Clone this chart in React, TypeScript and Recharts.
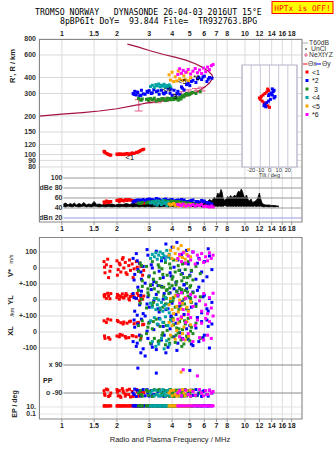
import React from 'react';
import {
  ComposedChart, ScatterChart, Scatter, XAxis, YAxis, CartesianGrid,
  ReferenceLine, Area, ErrorBar,
} from 'recharts';

// ---------------- data ----------------
const FREQ_TICKS = [1, 1.5, 2, 3, 4, 5, 6, 7, 8, 10, 12, 14, 16, 18];
const R_TICKS = [800, 600, 400, 300, 200, 150, 120, 100, 90, 80];
const DB_TICKS = [100, 80, 60, 40, 20];
const DB_LABELS = ['100', 'dBe 80', '60', '40', 'dBn 20'];
const TILT_TICKS = [-20, -10, 0, 10, 20];
const V_TICKS = [100, 0, -100];
const V_LABELS = ['100', '0', '+-100'];
const YL_TICKS = [0, -100];
const YL_LABELS = ['0', '+-100'];
const XL_TICKS = [0, -100];
const XL_LABELS = ['0', '-100'];
const PP_TICKS = [90, -90];
const PP_LABELS = ['x 90', 'o -90'];
const EP_TICKS = [10, 0.1];
const EP_LABELS = ['10.', '0.1'];
const SERIES_NAMES = ['<1', '*2', '3', '<4', '<5', '*6'];

// model profile curve [f MHz, R km]
const MODEL = [
  [0.75, 200], [1.0, 207], [1.3, 213], [1.6, 219], [2.0, 228], [2.5, 242], [3.0, 255],
  [3.5, 262], [4.0, 268], [4.5, 278], [5.0, 292], [5.5, 310], [6.0, 335], [6.4, 362],
  [6.68, 398], [6.6, 420], [6.3, 450], [5.9, 478], [5.4, 510], [4.8, 545], [4.2, 575],
  [3.6, 605], [3.0, 650], [2.6, 695], [2.28, 730],
];

// NeXtYZ [f, R, down, up]
const NEXTYZ = [
  [2.63, 243, 24, 26], [2.99, 262, 9, 10], [3.33, 262, 8, 9], [3.66, 269, 9, 10],
  [4.05, 282, 13, 13], [4.5, 297, 12, 13], [4.9, 307, 12, 13], [5.4, 318, 10, 10], [5.8, 325, 11, 11],
];

// noise / amplitude band [f, lo dB, hi dB]
const NOISE = [
  [1.02,43,48],[1.05,42,50],[1.08,44,46],[1.11,43,49],[1.14,42,47],[1.17,44,50],[1.2,43,46],[1.24,42,49],
  [1.28,43,47],[1.32,44,51],[1.36,42,46],[1.4,43,48],[1.45,42,47],[1.5,44,53],[1.55,43,47],[1.6,42,48],
  [1.66,43,46],[1.72,42,49],[1.8,43,47],[1.88,42,48],[1.96,43,46],[2.05,42,48],[2.15,43,47],[2.25,42,49],
  [2.35,43,47],[2.45,42,50],[2.55,43,48],[2.65,42,53],[2.75,43,49],[2.85,42,47],[2.95,43,50],[3.1,42,48],
  [3.25,43,49],[3.4,42,47],[3.6,43,50],[3.8,42,48],[4.0,43,49],[4.2,42,50],[4.4,43,48],[4.6,42,51],
  [4.8,43,49],[5.0,42,50],[5.2,43,52],[5.4,42,49],[5.6,43,53],[5.8,42,50],[6.0,43,55],[6.2,42,52],
  [6.4,43,57],[6.6,42,54],[6.8,43,62],[6.95,44,58],[7.1,43,70],[7.25,44,66],[7.4,43,77],[7.5,44,72],
  [7.6,43,60],[7.75,45,55],[7.9,44,58],[8.05,43,63],[8.2,44,60],[8.35,43,65],[8.5,44,61],[8.65,43,63],
  [8.8,44,66],[8.95,43,62],[9.1,44,70],[9.25,43,74],[9.4,44,71],[9.55,43,78],[9.7,44,73],[9.85,43,64],
  [10.0,44,60],[10.2,43,66],[10.4,44,57],[10.6,43,54],[10.8,44,58],[11.0,43,51],[11.3,44,53],[11.6,43,56],
  [11.8,44,62],[12.0,43,70],[12.2,44,58],[12.4,43,50],[12.7,42,47],[13.0,43,46],[13.5,42,46],[14.0,43,45],
  [14.5,42,45],[15.0,43,44],[15.3,42,44],
];

// echoes: [f MHz, R km, dB, V* m/s, YL km, XL km, PP deg, EP deg]
const ECHO_1 = [
  [1.70,106,52, 40, 30, 70,-75,20],[1.72,104,50,-30, 35,-40,-105,22],[1.75,102,54, 20, 10, 60,-65,18],
  [1.80,100,51,-60, 25,-35,-112,21],[1.85,99,53, 10, 40, 75,-90,20],[2.00,101,55, 45, 15,-25,-68,19],
  [2.03,100,56,-10, 28, 65,-108,23],[2.06,101,53, 30, 5,-30,-75,20],[2.10,100,57,-25, 20, 58,-118,21],
  [2.14,101,55, 55, 38,-20,-62,18],[2.18,100,54, 0, 12, 62,-90,22],[2.22,101,56, 35, 25,-28,-110,20],
  [2.27,102,55,-40, 30, 55,-72,19],[2.32,100,57, 15, 8,-35,-100,21],[2.37,101,56,-15, 22, 68,-115,20],
  [2.42,103,55, 25, 35,-22,-80,22],[2.48,102,54,-5, 18, 52,-105,20],[2.55,104,53, 40, 10,-30,-68,19],
  [2.62,105,52,-20, 28, 60,-110,21],[2.70,108,51, 10, 15,-40,-90,20],[2.76,109,50,-45, 5, 45,-75,20],
  [1.71,105,51, 5, 20,-25,-95,21],[1.78,101,53, 55, 42, 80,-70,20],[1.83,99,52,-20, 8,-45,-105,22],
  [2.01,100,55,-45, 35, 72,-85,21],[2.08,101,56, 20, 25,-15,-110,20],[2.16,100,55, 65, 15, 50,-78,22],
  [2.24,101,57,-30, 40,-38,-98,21],[2.34,101,56, 50, 0, 64,-66,20],[2.45,102,55,-60, 28,-25,-112,22],
  [2.58,104,53, 5, 42, 58,-82,21],[2.66,106,52, 30,-5,-20,-102,20],[2.80,110,50,-15, 25, 48,-88,21],
];
const ECHO_2 = [
  [2.45,300,52, 60, 40,-60,-90,22],[2.50,312,54,-40,-70, 30,-65,20],[2.55,292,55, 90, 10,-90,-112,24],
  [2.60,305,53,-10, 80, 50, 70,21],[2.66,288,56, 30,-30,-20,-75,19],[2.72,318,54,-70, 55, 80,-105,23],
  [2.78,298,57, 10,-85,-105,-68,20],[2.85,296,55,-95,-100,-150,-108,21],
  [2.95,306,55, 80, 20,-40,-90,22],[3.00,316,58,-50,-45, 60,-110,20],[3.08,300,57, 20, 65,-75,-75,21],
  [3.18,322,56,-85,-5, 15,-100,24],[3.28,310,59, 105, 35,-110, 38,20],[3.40,296,57,-20,-75, 85,-72,22],
  [3.50,318,55, 45, 85,-50,-108,19],[3.58,302,56,-60, 5, 35,-80,21],[3.70,306,58,150,-60,-130,-75,20],
  [3.80,330,55, 70,-55,-95,-105,23],[3.90,302,56,-30, 45, 20,-68,20],[4.00,290,57, 130,-20, 70,-90,22],
  [4.10,318,54, 5, 70,-30,-112,21],[4.20,282,55,-90,-90, 55,-75,20],[4.30,312,56, 50, 25,-70,-100,24],
  [4.40,296,55,-15,-40,-5,-72,22],[4.50,338,57, 85, 60, 90,-110,20],[4.65,320,56,-105, 95, 110,-105,22],
  [4.90,360,53, 25,-65,-45,-80,21],[5.00,346,54,-45, 15, 40, 55,23],[5.20,380,56, 100, 50,-85,-105,20],
  [5.40,366,53,-70,-25, 25,-68,22],[5.60,400,52, 60, 80,-60,-90,21],[5.80,386,55,-25,-80, 65,-112,19],
  [6.00,410,54, 40, 30,-20,-75,23],[6.20,372,51,-55,-55, 75,-100,20],[6.40,400,50, 75, 10,-100,-72,22],
  [6.60,395,48,-10,-15, 50,-90,21],
  [2.48,295,53,-75, 15, 75,-100,21],[2.58,308,56, 45,-95,-70,-72,22],[2.70,290,55,-25, 30,-130,-110,20],
  [2.92,312,57, 115,-25, 5,-68,21],[3.12,304,56, 0, 95,-95,-105,22],[3.35,315,58,-110,-55, 45,-80,20],
  [3.62,298,57, 65, 40,-20,-112,21],[3.95,325,56,-50,-100, 95,-75,22],[4.25,300,55, 160, 55,-115,-100,21],
  [4.55,330,54,-35,-10,-40,-90,20],[4.80,352,53, 110, 70, 20,-108,22],[5.10,372,55,-20,-45,-75,-72,21],
  [5.50,390,53, 30, 60, 90,-105,20],[5.90,404,52,-80, 20,-35,-80,22],[6.30,388,50, 120,-70, 35,-110,21],
];
const ECHO_3 = [
  [2.62,275,50,-20, 60, 40,-90,21],[2.68,268,49, 30,-20,-50,-75,20],[2.75,272,51,-80, 85, 70,-110,22],
  [2.90,270,50, 10,-50,-10,-72,20],[2.98,265,52,-55, 30, 55,-105,21],[3.05,274,51,-110, 95,-70,-80,23],
  [3.12,268,53, 40,-35, 20,-112,20],[3.20,276,52,-30, 70,-40,-68,22],[3.28,262,53,-90, 10, 80,-100,21],
  [3.36,270,54, 20, 50,-60,-75,20],[3.44,266,52,-65,-60, 35,-108,22],[3.52,274,53,-5, 80,-20,-90,21],
  [3.60,271,55,-120, 25, 60,-72,20],[3.68,264,54, 35,-25,-80,-110,23],[3.76,276,52,-45, 65, 10,-80,21],
  [3.84,270,53,-100, 40,-45,-105,20],[3.92,268,54, 0,-10, 75,-68,22],[4.00,275,52,-70, 90,-30,-90,21],
  [4.08,269,53, 50, 15, 45,-112,20],[4.16,280,51,-25,-45,-65,-75,22],[4.24,272,52,-85, 55, 25,-100,21],
  [4.32,266,53, 15, 35,-5,-72,20],[4.40,278,51,-130, 75, 65,-108,22],[4.48,272,52,-40,-30,-50,-80,21],
  [4.56,288,50, 25, 45, 15,-90,20],[4.64,282,51,-60, 5,-75,-110,23],[4.72,295,50,-10, 60, 50,-68,21],
  [4.80,300,49,-95,-55,-25,-105,20],[4.90,292,50, 40, 25, 85,-75,22],[5.00,296,49,-50, 80,-55,-100,21],
  [5.10,304,48,-15,-15, 30,-80,20],[5.20,306,48,-75, 45,-10,-72,22],[5.40,300,47, 10,-40, 55,-108,21],
  [5.70,310,47,-35, 20,-40,-90,20],
  [2.72,266,50, 15, 5,-25,-100,21],[2.95,272,51,-130, 45, 30,-80,22],[3.16,270,52,-70,-15, 65,-110,20],
  [3.40,268,53, 5, 90,-55,-68,21],[3.56,272,54,-40,-45,-5,-105,22],[3.72,266,53,-140, 10, 40,-75,20],
  [3.88,274,52, 25, 75,-70,-112,21],[4.04,270,53,-55,-5, 85,-90,22],[4.20,276,52,-105, 30,-20,-72,20],
  [4.36,270,51,-15,-60, 20,-108,21],[4.52,284,50,-80, 65,-90,-80,22],[4.68,290,50, 30,-25, 70,-100,20],
  [4.85,296,49,-60, 50,-35,-75,21],[5.05,300,48,-110, 10, 5,-110,22],
];
const ECHO_4 = [
  [3.05,340,50, 60,-20, 70,-90,21],[3.12,348,52, 85,-45,-60,-75,20],[3.20,335,48, 70, 10, 90,-108,22],
  [3.26,352,54, 95,-60,-90,-72,21],[3.32,344,46, 55,-30, 50,-100,20],[3.38,356,53, 80, 0,-75,-110,22],
  [3.44,338,50, 100,-50, 80,-80,21],[3.50,348,47, 65,-15,-40,-105,20],[3.56,342,55, 90,-70, 60,-68,22],
  [3.62,354,49, 75,-35,-105,-90,21],[3.68,336,51, 50, 15, 95,-108,20],[3.74,346,45, 110,-55,-55,-75,22],
  [3.80,340,52, 70,-25, 40,-100,21],[3.86,350,48, 85,-80,-80,-72,20],[3.92,338,46, 60, 5, 70,-110,22],
];
const ECHO_5 = [
  [3.85,420,48, 80,-30, 60,-90,21],[3.92,382,46, 110, 10,-20,-75,20],[4.00,440,47, 60,-60, 40,-108,22],
  [4.08,372,49, 130,-85, 75,-72,21],[4.16,405,45, 90, 25,-45,-100,20],[4.24,376,47, 50,-40, 10,-110,22],
  [4.32,450,44, 120,-75, 55,-80,21],[4.40,390,48, 75, 0,-30,-105,20],[4.48,430,46, 140,-55, 85, 45,22],
  [4.56,380,45, 65,-20,-10,-68,21],[4.64,412,47, 100,-95, 30,-90,20],[4.72,385,44, 55, 15,-50,-108,22],
  [4.82,440,46, 85,-45, 65,-75,21],[4.92,378,45, 115,-70,-25,-100,20],[5.05,398,47, 70,-10, 45,-72,22],
];
const ECHO_6 = [
  [4.30,422,47, 60, 30, 80,-90,21],[4.40,468,46, 85,-20,-30,-75,20],[4.50,432,45, 40, 45, 95,-108,22],
  [4.60,455,48, 95,-60,-45, 60,21],[4.75,440,44, 30, 10, 60,-72,20],[4.90,462,46, 75,-90,-10,-100,22],
  [5.05,426,45, 50, 35, 90,-110,21],[5.20,448,47, 100,-40,-60,-80,20],[5.35,470,44, 25, 20, 40,-105,22],
  [5.50,436,46, 80,-110, 75, 20,21],[5.65,458,45, 55,-5,-35,-68,20],[5.80,430,47, 90,-70, 55,-90,22],
  [5.95,474,43, 35, 40,-50,-108,21],[6.10,444,44, 70,-30, 85,-75,20],[6.25,482,43, 45,-85,-20,-100,22],
  [6.40,460,42, 95, 15, 65,-72,21],[6.55,495,44, 60,-50,-40,-90,20],[6.70,505,42, 80, 42, 100,-80,22],
];
const ECHOES = [ECHO_1, ECHO_2, ECHO_3, ECHO_4, ECHO_5, ECHO_6];

// black mode labels [f, R, text]
const MODE_LABELS: [number, number, string][] = [
  [2.35, 95, '<1'], [3.75, 322, '<4'], [4.15, 283, '3'], [4.55, 372, '<5'], [5.45, 398, '*6'],
];

// tilt inset [tilt deg, R km]
const TILT_X = [
  [-2,325],[-1,316],[-3,308],[-5,300],[-7,292],[-9,284],[-11,277],[-10,270],[-8,262],[-6,254],[-4,246],[-2,240],[0,234],
];
const TILT_Y = [
  [3,326],[5,318],[4,310],[2,303],[0,296],[-1,289],[3,292],[6,284],[5,277],[1,270],[-1,262],[-3,255],[-5,248],[-6,241],[-4,236],
];

// ---------------- styles ----------------
const FONT = '"Liberation Sans", Arial, sans-serif';
const MONO = '"DejaVu Sans Mono", monospace';
const COLORS = ['#ff0000', '#0000ff', '#228b22', '#00a3a3', '#ffa500', '#ff00ff'];
const MODEL_COLOR = '#a3123f';
const NEXT_COLOR = '#e0608a';
const F_DOMAIN: [number, number] = [0.75, 20.5];
const TICK = { fontSize: 7, fill: '#222', fontWeight: 'bold', fontFamily: FONT } as any;
const LBL = (v: string, off = 3) => ({ value: v, position: 'left', offset: off, fontSize: 7, fill: '#333', fontWeight: 'bold', fontFamily: FONT } as any);

const R = 1, DB = 2, V = 3, YL = 4, XL = 5, PP = 6, EP = 7;
const pts = (arr: number[][], k: number) => arr.map((e) => ({ f: e[0], y: e[k] }));
const sq = (color: string, s = 3) => (p: any) =>
  <rect x={p.cx - s / 2} y={p.cy - s / 2} width={s} height={s} fill={color} />;
const none = () => <g />;

const bandData = NOISE.map((n) => ({ f: n[0], band: [n[1], n[2]] }));

function TopChart() {
  return (
    <ComposedChart width={335} height={236} data={bandData} margin={{ top: 27, right: 33, bottom: 0, left: 39 }}>
      <XAxis xAxisId="x" dataKey="f" type="number" scale="log" domain={F_DOMAIN} allowDataOverflow
        orientation="top" ticks={FREQ_TICKS} interval={0} height={12} axisLine={false} tickLine={false}
        tickSize={2} tickMargin={1} tick={TICK} />
      <XAxis xAxisId="xb" dataKey="f" type="number" scale="log" domain={F_DOMAIN} allowDataOverflow
        orientation="bottom" ticks={FREQ_TICKS} interval={0} height={14} axisLine={false}
        tickLine={{ stroke: '#999' }} tickSize={3} tickMargin={1} tick={TICK} />
      <YAxis yAxisId="r" dataKey="y" type="number" scale="log" domain={[29.7, 800]} allowDataOverflow hide ticks={R_TICKS} />
      <YAxis yAxisId="db" dataKey="y" type="number" domain={[12, 378]} allowDataOverflow hide ticks={DB_TICKS} />
      <CartesianGrid xAxisId="x" yAxisId="r" horizontal={false} stroke="#dcdcdc" />
      {R_TICKS.map((t) => (
        <ReferenceLine key={'r' + t} xAxisId="x" yAxisId="r" y={t} stroke="#d8d8d8" label={LBL(String(t))} />
      ))}
      {DB_TICKS.map((t, i) => (
        <ReferenceLine key={'d' + t} xAxisId="x" yAxisId="db"
          segment={[{ x: 1.02, y: t }, { x: 20.4, y: t }]}
          stroke={t === 20 ? '#9a9ae8' : '#999'} label={LBL(DB_LABELS[i], 1)} />
      ))}
      <Area xAxisId="x" yAxisId="db" dataKey="band" type="linear" stroke="#000" strokeWidth={0.8}
        fill="#000" fillOpacity={1} dot={false} activeDot={false} isAnimationActive={false} />
      <Scatter xAxisId="x" yAxisId="r" data={MODEL.map((m) => ({ f: m[0], y: m[1] }))} fill={MODEL_COLOR}
        line={{ stroke: MODEL_COLOR, strokeWidth: 1.2 }} lineType="joint" shape={none} isAnimationActive={false} />
      <Scatter xAxisId="x" yAxisId="r" data={NEXTYZ.map((n) => ({ f: n[0], y: n[1], e: [n[2], n[3]] }))}
        shape={(p: any) => <path d={`M${p.cx - 2},${p.cy}h4`} stroke={NEXT_COLOR} strokeWidth={1} />}
        isAnimationActive={false}>
        <ErrorBar dataKey="e" direction="y" width={4} stroke={NEXT_COLOR} strokeWidth={1} />
      </Scatter>
      {ECHOES.map((arr, i) => (
        <Scatter key={'er' + i} xAxisId="x" yAxisId="r" data={pts(arr, R)} shape={sq(COLORS[i])} isAnimationActive={false} />
      ))}
      {ECHOES.map((arr, i) => (
        <Scatter key={'ed' + i} xAxisId="x" yAxisId="db" data={pts(arr, DB)} shape={sq(COLORS[i])} isAnimationActive={false} />
      ))}
      <Scatter xAxisId="x" yAxisId="r" data={MODE_LABELS.map((m) => ({ f: m[0], y: m[1], t: m[2] }))}
        shape={(p: any) => (
          <text x={p.cx} y={p.cy} fontSize={7.5} fontFamily={FONT} textAnchor="middle" dominantBaseline="central" fill="#000">
            {p.payload.t}
          </text>
        )} isAnimationActive={false} />
    </ComposedChart>
  );
}

function TiltChart() {
  return (
    <ScatterChart width={75} height={125} margin={{ top: 10, right: 10, bottom: 5, left: 10 }}>
      <XAxis dataKey="f" type="number" domain={[-30, 30]} allowDataOverflow ticks={TILT_TICKS} interval={0}
        height={8} axisLine={false} tickLine={false} tickSize={0} tickMargin={1}
        tick={{ fontSize: 5.5, fill: '#333', fontFamily: FONT }} />
      <YAxis dataKey="y" type="number" scale="log" domain={[80, 501]} allowDataOverflow hide />
      <CartesianGrid horizontal={false} stroke="#c8c8d8" fill="#fff" fillOpacity={1} />
      <Scatter data={TILT_X.map((t) => ({ f: t[0], y: t[1] }))} shape={sq('#ff0000', 3)} isAnimationActive={false} />
      <Scatter data={TILT_Y.map((t) => ({ f: t[0], y: t[1] }))} shape={sq('#0000ff', 3)} isAnimationActive={false} />
    </ScatterChart>
  );
}

function LowerChart() {
  const bands: [string, number][] = [['v', V], ['yl', YL], ['xl', XL], ['pp', PP], ['ep', EP]];
  return (
    <ScatterChart width={335} height={215} margin={{ top: 1, right: 33, bottom: 18, left: 39 }}>
      <XAxis xAxisId="x" dataKey="f" type="number" scale="log" domain={F_DOMAIN} allowDataOverflow
        ticks={FREQ_TICKS} interval={0} height={14} axisLine={false}
        tickLine={{ stroke: '#999' }} tickSize={3} tickMargin={1} tick={TICK} />
      <YAxis yAxisId="v" dataKey="y" type="number" domain={[-943.75, 193.75]} allowDataOverflow hide ticks={V_TICKS} />
      <YAxis yAxisId="yl" dataKey="y" type="number" domain={[-743.75, 393.75]} allowDataOverflow hide ticks={YL_TICKS} />
      <YAxis yAxisId="xl" dataKey="y" type="number" domain={[-543.75, 593.75]} allowDataOverflow hide ticks={XL_TICKS} />
      <YAxis yAxisId="pp" dataKey="y" type="number" domain={[-257.1, 912.9]} allowDataOverflow hide ticks={PP_TICKS} />
      <YAxis yAxisId="ep" dataKey="y" type="number" scale="log" domain={[0.003727, 3.72e49]} allowDataOverflow hide ticks={EP_TICKS} />
      <CartesianGrid xAxisId="x" yAxisId="v" horizontal={false} stroke="#dcdcdc" />
      {V_TICKS.map((t, i) => (
        <ReferenceLine key={'v' + t} xAxisId="x" yAxisId="v" y={t} stroke="#dcdcdc" label={LBL(V_LABELS[i], 2)} />
      ))}
      {YL_TICKS.map((t, i) => (
        <ReferenceLine key={'yl' + t} xAxisId="x" yAxisId="yl" y={t} stroke="#dcdcdc" label={LBL(YL_LABELS[i], 2)} />
      ))}
      {XL_TICKS.map((t, i) => (
        <ReferenceLine key={'xl' + t} xAxisId="x" yAxisId="xl" y={t} stroke="#dcdcdc" label={LBL(XL_LABELS[i], 2)} />
      ))}
      {PP_TICKS.map((t, i) => (
        <ReferenceLine key={'pp' + t} xAxisId="x" yAxisId="pp" segment={[{ x: 1.02, y: t }, { x: 20.4, y: t }]}
          stroke="#888" label={LBL(PP_LABELS[i], 1)} />
      ))}
      {EP_TICKS.map((t, i) => (
        <ReferenceLine key={'ep' + t} xAxisId="x" yAxisId="ep" y={t} stroke="#e4e4e4" label={LBL(EP_LABELS[i], 3)} />
      ))}
      {bands.map(([id, k]) =>
        ECHOES.map((arr, i) => (
          <Scatter key={id + i} xAxisId="x" yAxisId={id} data={pts(arr, k)} shape={sq(COLORS[i])} isAnimationActive={false} />
        ))
      )}
    </ScatterChart>
  );
}

function Overlay() {
  const legendY = [72, 80.5, 89, 97.5, 106, 114.5];
  const t7 = { fontSize: 6.8, fontFamily: FONT, fill: '#333' } as any;
  return (
    <svg width={335} height={451} style={{ position: 'absolute', left: 0, top: 0, pointerEvents: 'none' }}>
      <text x={35} y={14.5} fontSize={8.2} fontFamily={MONO} style={{ whiteSpace: 'pre' }}>TROMSO NORWAY   DYNASONDE 26-04-03 2016UT 15°E</text>
      <text x={60} y={23.5} fontSize={8.2} fontFamily={MONO} style={{ whiteSpace: 'pre' }}>8pBP6It DoY=  93.844 File=  TR932763.BPG</text>
      <rect x={272} y={1.5} width={61} height={12} fill="#ffff00" stroke="#ff0000" strokeWidth={1} />
      <text x={302.5} y={10.5} fontSize={7.8} fontFamily={MONO} fill="#ff0000" textAnchor="middle" style={{ whiteSpace: 'pre' }}>HPTx is OFF!</text>

      <rect x={39.5} y={39.5} width={262.5} height={182.5} fill="none" stroke="#888" strokeWidth={1} />
      <rect x={39.5} y={237.5} width={262.5} height={181.5} fill="none" stroke="#888" strokeWidth={1} />
      <rect x={242} y={65} width={55} height={102} fill="none" stroke="#b4b4c8" strokeWidth={1} />
      <text x={269.5} y={177} fontSize={5.5} fontFamily={FONT} fill="#333" textAnchor="middle">Tilt / deg</text>

      <line x1={303} x2={308} y1={43} y2={43} stroke="#aaa" />
      <text x={309} y={45.3} {...t7}>T60dB</text>
      <circle cx={306} cy={49} r={0.8} fill="#000" />
      <text x={311} y={51.3} {...t7}>UnCl</text>
      <path d="M304,55h4M306,53v4" stroke={NEXT_COLOR} />
      <text x={309} y={57.3} {...t7}>NeXtYZ</text>
      <line x1={303} x2={307.5} y1={64} y2={64} stroke="#ff0000" />
      <text x={308} y={66.3} {...t7}>Θx</text>
      <line x1={316} x2={321} y1={64} y2={64} stroke="#0000ff" />
      <text x={322} y={66.3} {...t7}>Θy</text>
      {SERIES_NAMES.map((n, i) => (
        <g key={n}>
          <rect x={305.5} y={legendY[i] - 1.5} width={3} height={3} fill={COLORS[i]} />
          <text x={312} y={legendY[i] + 2.5} fontSize={7} fontFamily={FONT} fill="#111" style={{ whiteSpace: 'pre' }}>{n === '3' ? ' 3' : n}</text>
        </g>
      ))}

      <text transform="translate(15,66) rotate(-90)" fontSize={7.5} fontWeight="bold" fontFamily={FONT} textAnchor="middle" fill="#222">R', R / km</text>
      <text transform="translate(13,273) rotate(-90)" fontSize={7.5} fontWeight="bold" fontFamily={FONT} textAnchor="middle" fill="#222">V*</text>
      <text transform="translate(13,259) rotate(-90)" fontSize={5.5} fontFamily={FONT} textAnchor="middle" fill="#222">m/s</text>
      <text transform="translate(13,300) rotate(-90)" fontSize={7.5} fontWeight="bold" fontFamily={FONT} textAnchor="middle" fill="#222">YL</text>
      <text transform="translate(14,312) rotate(-90)" fontSize={5.5} fontFamily={FONT} textAnchor="middle" fill="#222">/km</text>
      <text transform="translate(13,331) rotate(-90)" fontSize={7.5} fontWeight="bold" fontFamily={FONT} textAnchor="middle" fill="#222">XL</text>
      <text transform="translate(17,404) rotate(-90)" fontSize={7} fontWeight="bold" fontFamily={FONT} textAnchor="middle" fill="#222">EP / deg</text>
      <text x={43} y={383} fontSize={7} fontWeight="bold" fontFamily={FONT} fill="#222">PP</text>
      <text x={170} y={442} fontSize={7.5} fontFamily={FONT} textAnchor="middle" fill="#222">Radio and Plasma Frequency / MHz</text>
    </svg>
  );
}

export default function App() {
  return (
    <div style={{ position: 'absolute', left: 0, top: 0, width: 335, height: 451, background: '#fff', overflow: 'hidden' }}>
      <style>{'body{margin:0}'}</style>
      <div style={{ position: 'absolute', left: 0, top: 0 }}><TopChart /></div>
      <div style={{ position: 'absolute', left: 232, top: 55 }}><TiltChart /></div>
      <div style={{ position: 'absolute', left: 0, top: 236 }}><LowerChart /></div>
      <Overlay />
    </div>
  );
}
